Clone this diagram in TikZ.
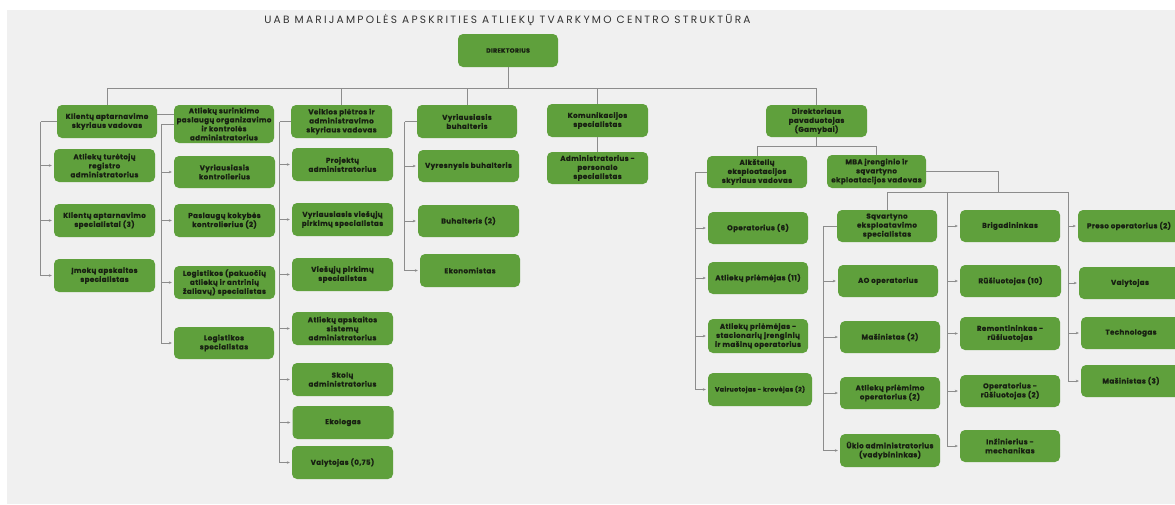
\documentclass[tikz,border=0pt]{standalone}
\usepackage{fontspec}
\setmainfont{Poppins}
\newfontfamily\boxfont{Poppins}[LetterSpace=5, BoldFeatures={FakeBold=0.6}]
\newfontfamily\titlefont{Poppins}[LetterSpace=21]
\usetikzlibrary{arrows.meta,calc}
\definecolor{bxgreen}{RGB}{95,160,60}
\definecolor{bxtext}{RGB}{24,32,18}
\definecolor{lngray}{RGB}{140,140,140}
\definecolor{bggray}{RGB}{240,240,240}
\definecolor{titlecol}{RGB}{50,50,50}
\tikzset{
  box/.style={fill=bxgreen, rounded corners=5pt, minimum width=100pt, minimum height=33pt,
    inner sep=1pt, align=center, text=bxtext,
    font=\boxfont\bfseries\fontsize{7.15}{9}\selectfont},
  ln/.style={draw=lngray, line width=0.9pt},
  arr/.style={ln, -{Stealth[length=3pt,width=2.6pt]}, shorten >=2pt},
}
\begin{document}
\begin{tikzpicture}[x=1pt,y=-1pt]
\fill[white] (0,0) rectangle (1175,504);
\fill[bggray] (7,10) rectangle (1175,504);
\useasboundingbox (0,0) rectangle (1175,504);

\node[font=\titlefont\fontsize{10.6}{12}\selectfont, text=titlecol] (title) at (507.5,20)
  {UAB MARIJAMPOLĖS APSKRITIES ATLIEKŲ TVARKYMO CENTRO STRUKTŪRA};

\node[box, font=\boxfont\bfseries\fontsize{6.2}{7}\selectfont] (dir) at (508,50.5) {DIREKTORIUS};

% column 1
\node[box] (k0) at (107,121.5) {Klientų aptarnavimo\\skyriaus vadovas};
\node[box, minimum width=101pt] (k1) at (104.5,165.5) {Atliekų turėtojų\\registro\\administratorius};
\node[box, minimum width=101pt] (k2) at (104.5,220.5) {Klientų aptarnavimo\\specialistai (3)};
\node[box, minimum width=101pt] (k3) at (104.5,275.5) {Įmokų apskaitos\\specialistas};

% column 2
\node[box, minimum height=38pt] (a0) at (224,124) {Atliekų surinkimo\\paslaugų organizavimo\\ir kontrolės\\administratorius};
\node[box, minimum width=101pt, minimum height=32pt] (a1) at (224.5,172) {Vyriausiasis\\kontrolierius};
\node[box, minimum width=101pt] (a2) at (224.5,220.5) {Paslaugų kokybės\\kontrolierius (2)};
\node[box, minimum width=101pt] (a3) at (224.5,282.5) {Logistikos (pakuočių\\atliekų ir antrinių\\žaliavų) specialistas};
\node[box, minimum height=32pt] (a4) at (224,343) {Logistikos\\specialistas};

% column 3
\node[box, minimum width=101pt] (v0) at (341.5,121.5) {Veiklos plėtros ir\\administravimo\\skyriaus vadovas};
\node[box, minimum width=101pt] (v1) at (342.5,164.5) {Projektų\\administratorius};
\node[box, minimum width=101pt] (v2) at (342.5,219.5) {Vyriausiasis viešųjų\\pirkimų specialistas};
\node[box, minimum width=101pt] (v3) at (342.5,274.5) {Viešųjų pirkimų\\specialistas};
\node[box, minimum width=101pt] (v4) at (342.5,328.5) {Atliekų apskaitos\\sistemų\\administratorius};
\node[box, minimum width=101pt] (v5) at (342.5,379.5) {Skolų\\administratorius};
\node[box, minimum width=101pt] (v6) at (343,422.5) {Ekologas};
\node[box, minimum width=101pt] (v7) at (342.5,462.5) {Valytojas (0,75)};

% column 4
\node[box] (b0) at (467,121.5) {Vyriausiasis\\buhalteris};
\node[box, minimum width=101pt, minimum height=32pt] (b1) at (468.5,166) {Vyresnysis buhalteris};
\node[box, minimum width=101pt, minimum height=32pt] (b2) at (468.5,221) {Buhalteris (2)};
\node[box] (b3) at (470,270.5) {Ekonomistas};

% column 5
\node[box, minimum width=101pt] (c0) at (597.5,120.5) {Komunikacijos\\specialistas};
\node[box, minimum width=101pt, minimum height=32pt] (c1) at (597.5,168) {Administratorius -\\personalo\\specialistas};

% production
\node[box, minimum width=101pt, minimum height=32pt] (p0) at (816.5,121) {Direktoriaus\\pavaduotojas\\(Gamybai)};
\node[box, minimum height=32pt] (l0) at (757,172) {Alkštelių\\eksploatacijos\\skyriaus vadovas};
\node[box, minimum width=99pt] (m0) at (876.5,171.5) {MBA įrenginio ir\\sąvartyno\\ekploatacijos vadovas};

\node[box, minimum height=32pt] (l1) at (758,228) {Operatorius (6)};
\node[box, minimum height=32pt] (l2) at (758,278) {Atliekų priėmėjas (11)};
\node[box, minimum height=34pt] (l3) at (758,336) {Atliekų priėmėjas -\\stacionarių įrenginių\\ir mašinų operatorius};
\node[box, minimum width=104pt, font=\boxfont\bfseries\fontsize{6.3}{9}\selectfont] (l4) at (760,389.5) {Vairuotojas - krovėjas (2)};

\node[box, minimum height=32pt] (s0) at (887,226) {Sąvartyno\\eksploatavimo\\specialistas};
\node[box, minimum height=32pt] (s1) at (888,281) {AO operatorius};
\node[box, minimum height=32pt] (s2) at (890,337) {Mašinistas (2)};
\node[box, minimum height=32pt] (s3) at (890,393) {Atliekų priėmimo\\operatorius (2)};
\node[box] (s4) at (890,450.5) {Ūkio administratorius\\(vadybininkas)};

\node[box, minimum height=32pt] (g0) at (1010,226) {Brigadininkas};
\node[box, minimum width=101pt, minimum height=32pt] (g1) at (1010.5,281) {Rūšiuotojas (10)};
\node[box] (g2) at (1010,333.5) {Remontininkas -\\rūšiuotojas};
\node[box, minimum height=32pt] (g3) at (1010,391) {Operatorius -\\rūšiuotojas (2)};
\node[box, minimum height=32pt] (g4) at (1010,446) {Inžinierius -\\mechanikas};

\node[box, minimum width=102pt, minimum height=32pt] (r0) at (1129,226) {Preso operatorius (2)};
\node[box, minimum width=102pt, minimum height=32pt] (r1) at (1130,283) {Valytojas};
\node[box, minimum height=32pt] (r2) at (1131,333) {Technologas};
\node[box, minimum height=32pt] (r3) at (1131,381) {Mašinistas (3)};

% ---- connectors ----
\coordinate (bj) at (508,88);
\draw[ln] (dir.south) -- (bj);
\draw[ln] (k0.north) -- (k0.north |- bj) -- (p0.north |- bj) -- (p0.north);
\foreach \n in {v0,b0,c0} \draw[ln] (\n.north) -- (\n.north |- bj);

\draw[ln] ([yshift=7.5pt]k0.east) -- ([yshift=7.5pt]k0.east -| a0.west);

\draw[ln] (k0.west) -- ++(-16,0) coordinate (kb);
\draw[arr] (kb) |- (k3.west);
\foreach \n in {k1,k2} \draw[arr] (kb |- \n.west) -- (\n.west);

\draw[ln] (a0.west) -- ++(-12,0) coordinate (ab);
\draw[arr] (ab) |- (a4.west);
\foreach \n in {a1,a2,a3} \draw[arr] (ab |- \n.west) -- (\n.west);

\draw[ln] (v0.west) -- ++(-11,0) coordinate (vb);
\draw[arr] (vb) |- (v7.west);
\foreach \n in {v1,v2,v3,v4,v5,v6} \draw[arr] (vb |- \n.west) -- (\n.west);

\draw[ln] (b0.west) -- ++(-12,0) coordinate (bb);
\draw[arr] (bb) |- (b3.west);
\foreach \n in {b1,b2} \draw[arr] (bb |- \n.west) -- (\n.west);

\draw[ln] (c0.south) -- (c1.north);

\draw[ln] (p0.south) -- ++(0,9) coordinate (pj);
\draw[ln] (l0.north) -- (l0.north |- pj) -- (m0.north |- pj) -- (m0.north);

\draw[ln] (l0.west) -- ++(-11,0) coordinate (lb);
\draw[arr] (lb) |- (l4.west);
\foreach \n in {l1,l2,l3} \draw[arr] (lb |- \n.west) -- (\n.west);

\coordinate (mj) at (998,192);
\coordinate (gb) at (947,192);
\coordinate (rb) at (1068,192);
\draw[ln] (m0.east) -| (mj);
\draw[ln] (s0.north) |- (rb);

\draw[ln] (s0.west) -- ++(-13,0) coordinate (sb);
\draw[arr] (sb) |- (s4.west);
\foreach \n in {s1,s2,s3} \draw[arr] (sb |- \n.west) -- (\n.west);

\draw[arr] (gb) |- (g4.west);
\foreach \n in {g0,g1,g2,g3} \draw[arr] (gb |- \n.west) -- (\n.west);

\draw[arr] (rb) |- (r3.west);
\foreach \n in {r0,r1,r2} \draw[arr] (rb |- \n.west) -- (\n.west);
\end{tikzpicture}
\end{document}
